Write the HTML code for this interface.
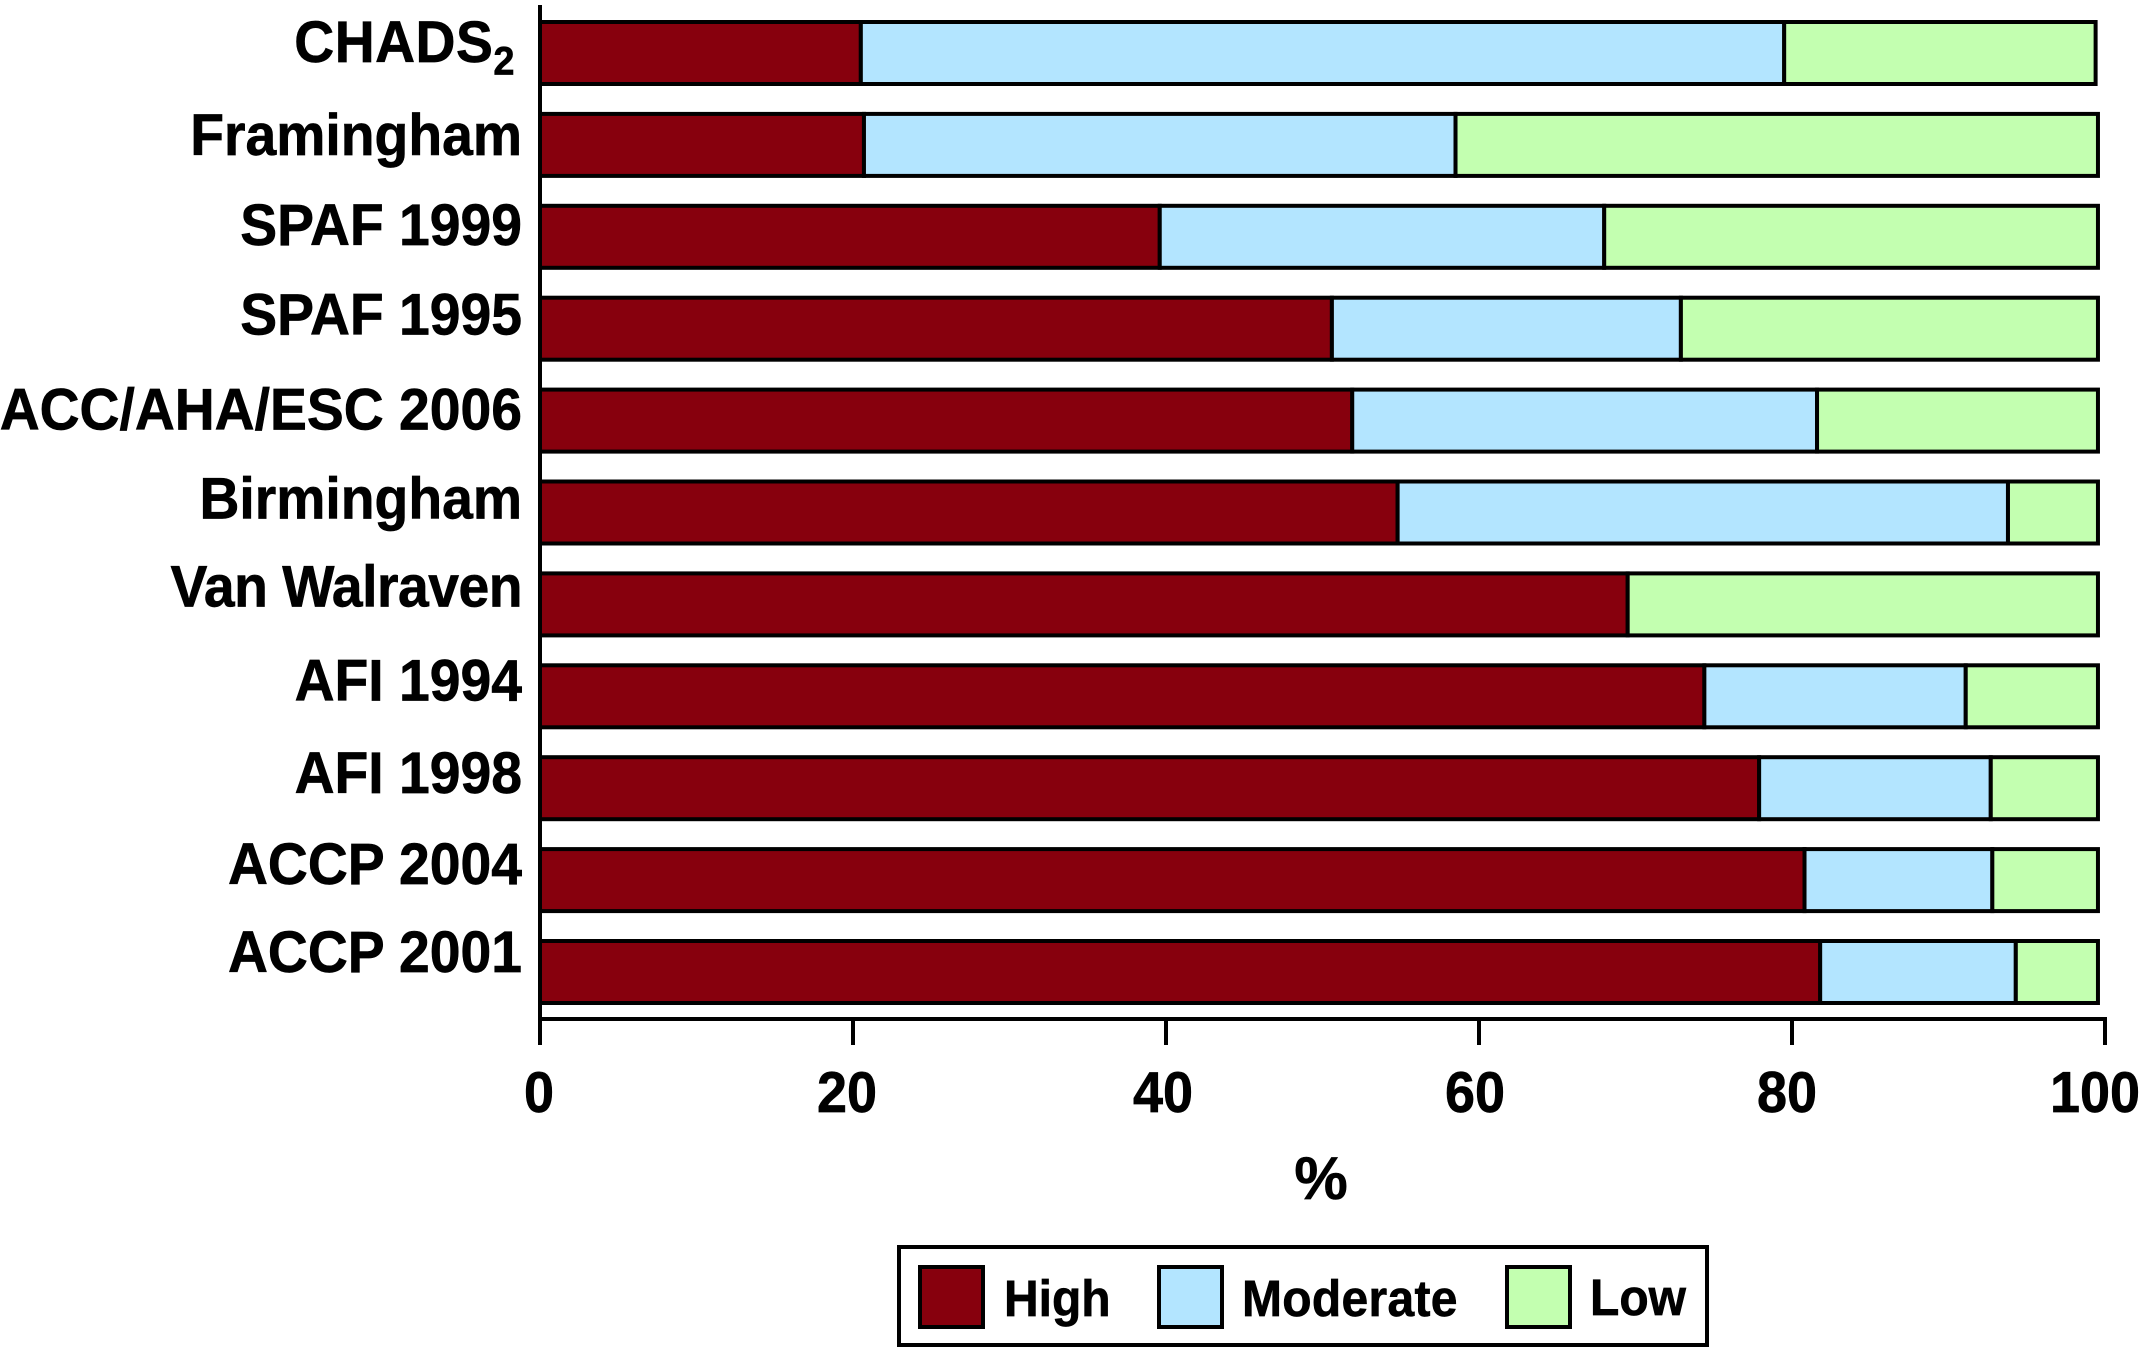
<!DOCTYPE html>
<html lang="en">
<head>
<meta charset="utf-8">
<title>Stroke risk stratification schemes</title>
<style>
  html, body { margin: 0; padding: 0; background: #fff; }
  svg { display: block; }
  text { font-family: "Liberation Sans", Arial, sans-serif; font-weight: 700; fill: #000; stroke: #000; stroke-width: 0.6px; }
</style>
</head>
<body>
<svg id="chart" xmlns="http://www.w3.org/2000/svg" width="2146" height="1347" viewBox="0 0 2146 1347"></svg>
<script>
const categories = ["CHADS", "Framingham", "SPAF 1999", "SPAF 1995", "ACC/AHA/ESC 2006", "Birmingham", "Van Walraven", "AFI 1994", "AFI 1998", "ACCP 2004", "ACCP 2001"];
const highValues = [20.5, 20.7, 39.6, 50.6, 51.9, 54.8, 69.5, 74.4, 77.9, 80.8, 81.8];
const moderateValues = [59.0, 37.8, 28.4, 22.3, 29.7, 39.0, 0, 16.7, 14.8, 12.0, 12.5];
const lowValues = [19.9, 41.05, 31.55, 26.65, 17.95, 5.75, 30.05, 8.45, 6.85, 6.75, 5.25];
const tickValues = [0, 20, 40, 60, 80, 100];
const seriesColors = ["#87000d", "#b3e5ff", "#c3ffb0"];
const seriesNames = ["High", "Moderate", "Low"];

const svg = document.getElementById('chart');
const NS = 'http://www.w3.org/2000/svg';
function make(tag, attrs, text) {
  const el = document.createElementNS(NS, tag);
  for (const k in attrs) el.setAttribute(k, attrs[k]);
  if (text !== undefined) el.textContent = text;
  return el;
}
function xScale(v) { return 540 + v * 15.65; }
function barTop(i) { return 22 + i * 91.9; }
function labelBase(i) { return 62 + i * 91.1 + [0, 2, 1, -1, 3, 1, -2, 1, 2, 2, -1][i]; }
function labelSpacing(i) { return [0.5, 0, 0, 0, 0, 0, -0.5, 0, 0, 0, 0][i]; }
function tickLabelCenter(k) { return xScale(tickValues[k]) - [1, 6, 3, 4, 5, 10][k]; }
function stretched(x, y, sy) { return 'translate(' + x + ' ' + y + ') scale(1 ' + sy + ')'; }
const barH = 62;
const series = [highValues, moderateValues, lowValues];

categories.forEach(function (c, i) {
  let cum = 0;
  series.forEach(function (vals, s) {
    const v = vals[i];
    if (v > 0) {
      const r = make('rect', { x: xScale(cum), y: barTop(i), width: xScale(cum + v) - xScale(cum), height: barH, fill: seriesColors[s], stroke: '#000', 'stroke-width': 4 });
      
      
      svg.appendChild(r);
    }
    cum += v;
  });
  const t = make('text', { transform: stretched(c === 'CHADS' ? 515 : 522, labelBase(i), 1.06), 'text-anchor': 'end', 'font-size': 55.3, 'letter-spacing': labelSpacing(i) });
  
  
  t.textContent = c;
  if (c === 'CHADS') {
    const sub = make('tspan', { dy: 12, 'font-size': 38 }, '2');
    t.appendChild(sub);
  }
  svg.appendChild(t);
});

const yAxis = make('line', { x1: xScale(0), x2: xScale(0), y1: 5, y2: 1021, stroke: '#000', 'stroke-width': 4 });


svg.appendChild(yAxis);

const xAxis = make('line', { x1: xScale(0) - 2, x2: xScale(100) + 2, y1: 1019, y2: 1019, stroke: '#000', 'stroke-width': 4 });


svg.appendChild(xAxis);

tickValues.forEach(function (v, k) {
  const tick = make('line', { x1: xScale(v), x2: xScale(v), y1: 1019, y2: 1045, stroke: '#000', 'stroke-width': 4 });
  
  
  svg.appendChild(tick);
  const label = make('text', { transform: stretched(tickLabelCenter(k), 1112, 1.07), 'text-anchor': 'middle', 'font-size': 54 }, String(v));
  
  
  svg.appendChild(label);
});

const xTitle = make('text', { x: 1321, y: 1199, 'text-anchor': 'middle', 'font-size': 60 }, '%');


svg.appendChild(xTitle);

const legendBox = make('rect', { x: 899, y: 1247, width: 808, height: 98, fill: '#fff', stroke: '#000', 'stroke-width': 4 });


svg.appendChild(legendBox);

const swatchLeft = function (s) { return [920, 1159, 1507][s]; };
const legendTextLeft = function (s) { return [1004, 1242, 1590][s]; };
const legendBase = function (s) { return [1316, 1316, 1315][s]; };
const legendSpacing = function (s) { return [0, 0.3, 0][s]; };
seriesNames.forEach(function (n, s) {
  const sw = make('rect', { x: swatchLeft(s), y: 1267, width: 63, height: 60, fill: seriesColors[s], stroke: '#000', 'stroke-width': 4 });
  
  
  svg.appendChild(sw);
  const t = make('text', { transform: stretched(legendTextLeft(s), legendBase(s), 1.06), 'font-size': 48, 'letter-spacing': legendSpacing(s) }, n);
  
  
  svg.appendChild(t);
});
</script>
</body>
</html>
